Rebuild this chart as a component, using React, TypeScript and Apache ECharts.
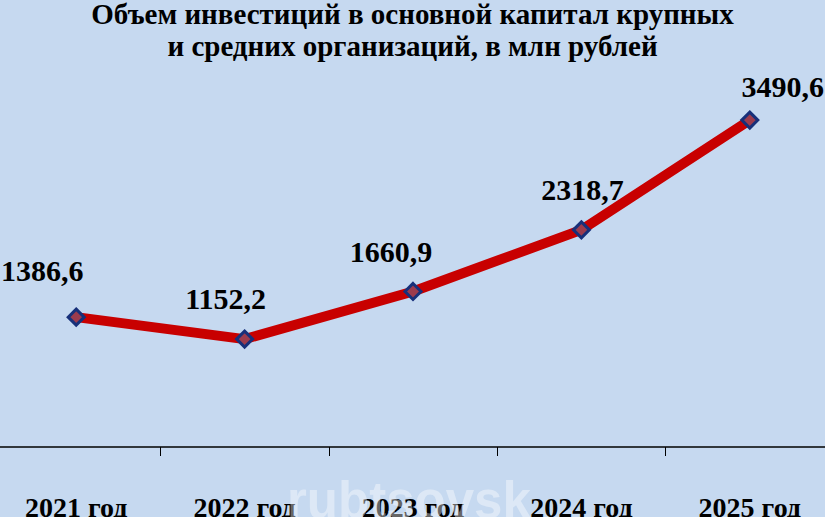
import React, { useEffect, useRef } from "react";
import * as echarts from "echarts";

const titleLines = [
  "Объем инвестиций в основной капитал крупных",
  "и средних организаций, в млн рублей",
];
const categories = ["2021 год", "2022 год", "2023 год", "2024 год", "2025 год"];
const values = [1386.6, 1152.2, 1660.9, 2318.7, 3490.6];
const labelOffsets: [number, number][] = [
  [-34, -47],
  [-19, -41],
  [-22, -40],
  [1, -40],
  [33, -34],
];
const watermark = "rubtsovsk";

export default function App() {
  const ref = useRef<HTMLDivElement>(null);
  useEffect(() => {
    document.body.style.margin = "0";
    const chart = echarts.init(ref.current!, null, { renderer: "svg" });
    chart.setOption({
      animation: false,
      backgroundColor: "#c6d9f0",
      title: {
        text: titleLines.join("\n"),
        left: "center",
        top: -7,
        textStyle: {
          fontFamily: "Liberation Serif",
          fontWeight: "bold",
          fontSize: 29,
          lineHeight: 32,
          color: "#000",
        },
      },
      grid: {
        left: -8,
        right: -9,
        top: 72.4,
        bottom: 70,
        outerBoundsMode: "none",
        containLabel: false,
      },
      xAxis: {
        type: "category",
        data: categories,
        boundaryGap: true,
        axisLine: { lineStyle: { color: "#000", width: 1.5 } },
        axisTick: { show: true, length: 9, lineStyle: { color: "#000", width: 1 } },
        axisLabel: {
          margin: 46,
          fontFamily: "Liberation Serif",
          fontWeight: "bold",
          fontSize: 28,
          color: "#000",
          lineHeight: 28,
        },
      },
      yAxis: {
        type: "value",
        min: 0,
        max: 4000,
        show: false,
        splitLine: { show: false },
      },
      series: [
        {
          type: "line",
          data: values.map((v, i) => ({
            value: v,
            label: { offset: labelOffsets[i] },
          })),
          lineStyle: { color: "#c80000", width: 10 },
          symbol: "diamond",
          symbolSize: 16,
          itemStyle: { color: "#9c3b4d", borderColor: "#17307a", borderWidth: 3 },
          label: {
            show: true,
            position: "inside",
            align: "center",
            verticalAlign: "middle",
            formatter: (p: any) => String(p.value).replace(".", ","),
            fontFamily: "Liberation Serif",
            fontWeight: "bold",
            fontSize: 30,
            color: "#000",
          },
          z: 3,
        },
      ],
      graphic: [
        {
          type: "text",
          left: 287,
          top: 475,
          z: 10,
          style: {
            text: watermark,
            fontFamily: "Liberation Sans",
            fontWeight: "bold",
            fontSize: 51,
            fill: "rgba(255,255,255,0.4)",
          },
        },
      ],
    });
    return () => chart.dispose();
  }, []);
  return (
    <div
      ref={ref}
      style={{ position: "absolute", left: 0, top: 0, width: 825, height: 517 }}
    />
  );
}
